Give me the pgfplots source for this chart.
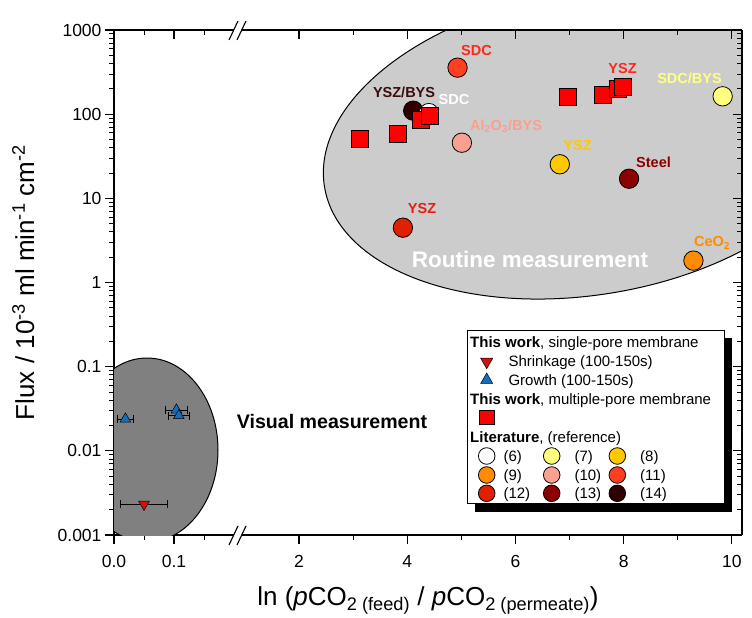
\documentclass[border=0pt]{standalone}
\usepackage{fontspec}
\setmainfont{Liberation Sans}
\usepackage{pgfplots}
\pgfplotsset{compat=1.18}
\definecolor{cLY}{RGB}{255,255,128}
\definecolor{cGold}{RGB}{255,200,0}
\definecolor{cOrange}{RGB}{255,140,0}
\definecolor{cSalmon}{RGB}{250,160,145}
\definecolor{cRedOr}{RGB}{255,64,32}
\definecolor{cRed12}{RGB}{224,32,0}
\definecolor{cDarkRed}{RGB}{139,0,0}
\definecolor{cBrown}{RGB}{48,0,0}
\definecolor{cSq}{RGB}{255,0,0}
\definecolor{cTriD}{RGB}{210,16,16}
\definecolor{cTriU}{RGB}{20,110,190}
\definecolor{ellL}{RGB}{204,204,204}
\definecolor{ellD}{RGB}{128,128,128}
\definecolor{lblSDC}{RGB}{255,40,25}
\definecolor{lblBrown}{RGB}{60,12,12}
\definecolor{lblYSZ}{RGB}{230,30,20}
\newcommand{\fs}[1]{\fontsize{#1}{#1}\selectfont}
\tikzset{lbltxt/.style={font=\bfseries\fs{14.5}, text=#1, inner sep=0pt}}
\begin{document}
\begin{tikzpicture}
\path[use as bounding box] (0,0) rectangle (752pt,618pt);

% ---------- left segment ----------
\begin{axis}[scale only axis, at={(114pt,83pt)}, anchor=south west, width=120pt, height=505pt,
  xmin=0, xmax=0.2, ymode=log, ymin=0.001, ymax=1000,
  axis x line=bottom, axis y line=left, tick align=outside,
  axis line style={-, line width=1.1pt},
  major tick length=9pt, minor tick length=5pt,
  major tick style={black, line width=1.1pt}, minor tick style={black, line width=0.9pt},
  xtick={0,0.1}, minor xtick={0.05,0.15}, xticklabels={0.0,0.1},
  ytick={0.001,0.01,0.1,1,10,100,1000},
  minor ytick={0.002,0.003,0.004,0.005,0.006,0.007,0.008,0.009,0.02,0.03,0.04,0.05,0.06,0.07,0.08,0.09,0.2,0.3,0.4,0.5,0.6,0.7,0.8,0.9,2,3,4,5,6,7,8,9,20,30,40,50,60,70,80,90,200,300,400,500,600,700,800,900},
  yticklabels={0.001,0.01,0.1,1,10,100,1000},
  tick label style={font=\fs{17.5}}, xticklabel style={yshift=-8pt}]
\draw[fill=ellD, line width=1pt] (axis cs:0.055,0.01023) ellipse [x radius=71pt, y radius=92pt];
\addplot[only marks, mark=triangle*, mark size=6.2pt, mark options={fill=cTriU, draw=black, line width=0.5pt},
  error bars/.cd, x dir=both, x explicit, error mark=|, error bar style={black, line width=0.8pt}, error mark options={black, line width=0.8pt, mark size=4pt}]
  coordinates {(0.019,0.0239) +- (0.0135,0) (0.104,0.0306) +- (0.018,0) (0.108,0.0262) +- (0.017,0)};
\addplot[only marks, mark=triangle*, mark size=6.2pt, mark options={rotate=180, fill=cTriD, draw=black, line width=0.5pt},
  error bars/.cd, x dir=both, x explicit, error mark=|, error bar style={black, line width=0.8pt}, error mark options={black, line width=0.8pt, mark size=4pt}]
  coordinates {(0.05,0.00232) +- (0.039,0)};
\end{axis}
\begin{axis}[scale only axis, at={(114pt,83pt)}, anchor=south west, width=120pt, height=505pt,
  xmin=0, xmax=0.2, ymin=0, ymax=1,
  axis x line=top, axis y line=none, tick align=inside,
  axis line style={-, line width=1.1pt},
  major tick length=9pt, minor tick length=5pt,
  major tick style={black, line width=1.1pt}, minor tick style={black, line width=0.9pt},
  xtick={0,0.1}, minor xtick={0.05,0.15}, xticklabels={}, ytick=\empty]
\end{axis}

% ---------- right segment ----------
\begin{axis}[scale only axis, at={(242pt,83pt)}, anchor=south west, width=500pt, height=505pt,
  xmin=0.946, xmax=10.188, ymode=log, ymin=0.001, ymax=1000,
  axis x line=bottom, axis y line=none, tick align=outside,
  axis line style={-, line width=1.1pt},
  major tick length=9pt, minor tick length=5pt,
  major tick style={black, line width=1.1pt}, minor tick style={black, line width=0.9pt},
  xtick={2,4,6,8,10}, minor xtick={3,5,7,9}, xticklabels={2,4,6,8,10}, ytick=\empty,
  tick label style={font=\fs{17.5}}, xticklabel style={yshift=-8pt}]
\draw[fill=ellL, line width=1pt, rotate around={9.44:(axis cs:7.349,45.1)}] (axis cs:7.349,45.1) ellipse [x radius=267.5pt, y radius=151.5pt];
\addplot[only marks, mark=*, mark size=9.7pt, mark options={draw=black, line width=0.8pt, fill=cBrown}] coordinates {(4.11,110)};
\addplot[only marks, mark=*, mark size=9.7pt, mark options={draw=black, line width=0.8pt, fill=white}] coordinates {(4.40,103)};
\addplot[only marks, mark=*, mark size=9.7pt, mark options={draw=black, line width=0.8pt, fill=cLY}] coordinates {(9.83,163)};
\addplot[only marks, mark=*, mark size=9.7pt, mark options={draw=black, line width=0.8pt, fill=cGold}] coordinates {(6.82,25.4)};
\addplot[only marks, mark=*, mark size=9.7pt, mark options={draw=black, line width=0.8pt, fill=cOrange}] coordinates {(9.29,1.82)};
\addplot[only marks, mark=*, mark size=9.7pt, mark options={draw=black, line width=0.8pt, fill=cSalmon}] coordinates {(5.01,45.8)};
\addplot[only marks, mark=*, mark size=9.7pt, mark options={draw=black, line width=0.8pt, fill=cRedOr}] coordinates {(4.93,357)};
\addplot[only marks, mark=*, mark size=9.7pt, mark options={draw=black, line width=0.8pt, fill=cRed12}] coordinates {(3.92,4.48)};
\addplot[only marks, mark=*, mark size=9.7pt, mark options={draw=black, line width=0.8pt, fill=cDarkRed}] coordinates {(8.10,17.1)};
\addplot[only marks, mark=square*, mark size=8.5pt, mark options={draw=black, line width=0.8pt, fill=cSq}] coordinates {(3.13,50.7) (3.82,58) (4.25,85) (4.41,95) (6.97,161) (7.61,168) (7.90,199) (7.99,210)};
\node[lbltxt=lblSDC] at (axis cs:5.281,578) {SDC};
\node[lbltxt=lblBrown] at (axis cs:3.941,183.4) {YSZ/BYS};
\node[lbltxt=white] at (axis cs:4.865,147.3) {SDC};
\node[lbltxt=cSalmon] at (axis cs:5.826,72.4) {Al\textsubscript{2}O\textsubscript{3}/BYS};
\node[lbltxt=cGold] at (axis cs:7.148,41.9) {YSZ};
\node[lbltxt=cDarkRed] at (axis cs:8.553,27.0) {Steel};
\node[lbltxt=lblYSZ] at (axis cs:4.274,7.47) {YSZ};
\node[lbltxt=cLY] at (axis cs:9.218,269) {SDC/BYS};
\node[lbltxt=cOrange] at (axis cs:9.634,2.95) {CeO\textsubscript{2}};
\node[lbltxt=lblSDC] at (axis cs:7.98,344) {YSZ};
\node[font=\bfseries\fs{22.5}, text=white, inner sep=0pt] at (axis cs:6.27,1.90) {Routine measurement};
\end{axis}
\begin{axis}[scale only axis, at={(242pt,83pt)}, anchor=south west, width=500pt, height=505pt,
  xmin=0.946, xmax=10.188, ymode=log, ymin=0.001, ymax=1000,
  axis x line=top, axis y line=right, tick align=inside,
  axis line style={-, line width=1.1pt},
  major tick length=9pt, minor tick length=5pt,
  major tick style={black, line width=1.1pt}, minor tick style={black, line width=0.9pt},
  xtick={2,4,6,8,10}, minor xtick={3,5,7,9}, xticklabels={},
  ytick={0.001,0.01,0.1,1,10,100,1000},
  minor ytick={0.002,0.003,0.004,0.005,0.006,0.007,0.008,0.009,0.02,0.03,0.04,0.05,0.06,0.07,0.08,0.09,0.2,0.3,0.4,0.5,0.6,0.7,0.8,0.9,2,3,4,5,6,7,8,9,20,30,40,50,60,70,80,90,200,300,400,500,600,700,800,900},
  yticklabels={}]
\end{axis}

\node[font=\bfseries\fs{19.6}, text=black, inner sep=0pt] at (332pt,197pt) {Visual measurement};

% ---------- axis breaks ----------
\draw[line width=1.1pt] (229pt,73pt) -- (238pt,92pt);
\draw[line width=1.1pt] (237pt,73pt) -- (246pt,92pt);
\draw[line width=1.1pt] (229pt,578pt) -- (238pt,597pt);
\draw[line width=1.1pt] (237pt,578pt) -- (246pt,597pt);

% ---------- axis labels ----------
\node[anchor=base, font=\fs{26}, inner sep=0pt] at (428pt,12pt) {ln (\textit{p}CO\textsubscript{2 (feed)} / \textit{p}CO\textsubscript{2 (permeate)})};
\node[anchor=base, rotate=90, font=\fs{26}, inner sep=0pt] at (34pt,335.5pt) {Flux / 10\textsuperscript{-3} ml min\textsuperscript{-1} cm\textsuperscript{-2}};

% ---------- legend ----------
\begin{axis}[scale only axis, at={(467pt,115pt)}, anchor=south west, width=257pt, height=173pt,
  xmin=0, xmax=257, ymin=0, ymax=173, hide axis, clip=false]
\fill[black] (axis cs:8,-9) rectangle (axis cs:265,165);
\filldraw[fill=white, draw=black, line width=0.8pt] (axis cs:0,0) rectangle (axis cs:257,173);
\node[anchor=base west, font=\fs{15}, inner sep=0pt] at (axis cs:3,155) {\textbf{This work}, single-pore membrane};
\addplot[only marks, mark=triangle*, mark size=7pt, mark options={rotate=180, fill=cTriD, draw=black, line width=0.5pt}] coordinates {(19.7,141.3)};
\node[anchor=base west, font=\fs{15}, inner sep=0pt] at (axis cs:41.3,136) {Shrinkage (100-150s)};
\addplot[only marks, mark=triangle*, mark size=7pt, mark options={fill=cTriU, draw=black, line width=0.5pt}] coordinates {(19.7,123)};
\node[anchor=base west, font=\fs{15}, inner sep=0pt] at (axis cs:41.3,117.6) {Growth (100-150s)};
\node[anchor=base west, font=\fs{15}, inner sep=0pt] at (axis cs:3,98.6) {\textbf{This work}, multiple-pore membrane};
\addplot[only marks, mark=square*, mark size=7.2pt, mark options={fill=cSq, draw=black, line width=0.8pt}] coordinates {(19.7,85.7)};
\node[anchor=base west, font=\fs{15}, inner sep=0pt] at (axis cs:3,60.3) {\textbf{Literature}, (reference)};
\addplot[only marks, mark=*, mark size=8.3pt, mark options={fill=white, draw=black, line width=0.8pt}] coordinates {(19.7,47)};
\addplot[only marks, mark=*, mark size=8.3pt, mark options={fill=cLY, draw=black, line width=0.8pt}] coordinates {(84.7,47)};
\addplot[only marks, mark=*, mark size=8.3pt, mark options={fill=cGold, draw=black, line width=0.8pt}] coordinates {(150.3,47)};
\addplot[only marks, mark=*, mark size=8.3pt, mark options={fill=cOrange, draw=black, line width=0.8pt}] coordinates {(19.7,28)};
\addplot[only marks, mark=*, mark size=8.3pt, mark options={fill=cSalmon, draw=black, line width=0.8pt}] coordinates {(84.7,28)};
\addplot[only marks, mark=*, mark size=8.3pt, mark options={fill=cRedOr, draw=black, line width=0.8pt}] coordinates {(150.3,28)};
\addplot[only marks, mark=*, mark size=8.3pt, mark options={fill=cRed12, draw=black, line width=0.8pt}] coordinates {(19.7,9.7)};
\addplot[only marks, mark=*, mark size=8.3pt, mark options={fill=cDarkRed, draw=black, line width=0.8pt}] coordinates {(84.7,9.7)};
\addplot[only marks, mark=*, mark size=8.3pt, mark options={fill=cBrown, draw=black, line width=0.8pt}] coordinates {(150.3,9.7)};
\node[anchor=base west, font=\fs{15}, inner sep=0pt] at (axis cs:36.3,41.6) {(6)};
\node[anchor=base west, font=\fs{15}, inner sep=0pt] at (axis cs:107.3,41.6) {(7)};
\node[anchor=base west, font=\fs{15}, inner sep=0pt] at (axis cs:173,41.6) {(8)};
\node[anchor=base west, font=\fs{15}, inner sep=0pt] at (axis cs:36.3,22.6) {(9)};
\node[anchor=base west, font=\fs{15}, inner sep=0pt] at (axis cs:107.3,22.6) {(10)};
\node[anchor=base west, font=\fs{15}, inner sep=0pt] at (axis cs:173,22.6) {(11)};
\node[anchor=base west, font=\fs{15}, inner sep=0pt] at (axis cs:36.3,4.3) {(12)};
\node[anchor=base west, font=\fs{15}, inner sep=0pt] at (axis cs:107.3,4.3) {(13)};
\node[anchor=base west, font=\fs{15}, inner sep=0pt] at (axis cs:173,4.3) {(14)};
\end{axis}
\end{tikzpicture}
\end{document}
